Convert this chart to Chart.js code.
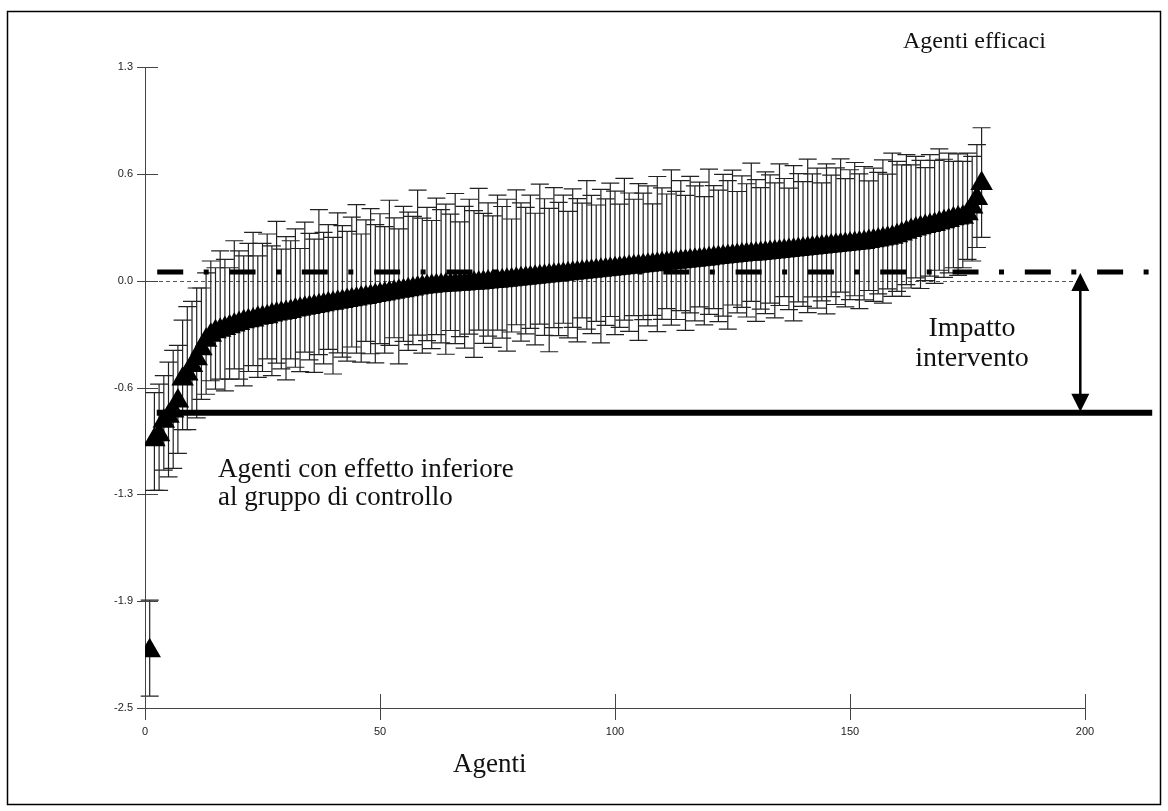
<!DOCTYPE html>
<html>
<head>
<meta charset="utf-8">
<script src="https://cdn.jsdelivr.net/npm/chart.js@4"></script>
<style>
  body { margin: 0; background: #fff; }
  canvas { display: block; }
</style>
</head>
<body>
<canvas id="chart" width="1168" height="811"></canvas>
<script>
// estimated agent effects, sorted (caterpillar plot)
const effect = [
  -2.16, -0.91, -0.88, -0.80, -0.77, -0.74, -0.68, -0.55, -0.52, -0.47,
  -0.43, -0.37, -0.32, -0.29, -0.27, -0.26, -0.25, -0.24, -0.23, -0.22,
  -0.21, -0.205, -0.20, -0.19, -0.185, -0.18, -0.17, -0.165, -0.16, -0.155,
  -0.15, -0.14, -0.136, -0.13, -0.126, -0.12, -0.115, -0.11, -0.104, -0.10,
  -0.095, -0.09, -0.084, -0.08, -0.076, -0.07, -0.066, -0.06, -0.054, -0.05,
  -0.046, -0.04, -0.035, -0.03, -0.026, -0.02, -0.016, -0.01, -0.006, -0.002,
  0.0, 0.003, 0.005, 0.007, 0.008, 0.01, 0.012, 0.014, 0.016, 0.018,
  0.02, 0.022, 0.025, 0.028, 0.03, 0.033, 0.036, 0.039, 0.042, 0.045,
  0.048, 0.05, 0.053, 0.056, 0.059, 0.062, 0.065, 0.068, 0.071, 0.074,
  0.077, 0.08, 0.083, 0.086, 0.089, 0.092, 0.095, 0.098, 0.101, 0.104,
  0.107, 0.11, 0.113, 0.116, 0.119, 0.122, 0.125, 0.128, 0.131, 0.134,
  0.137, 0.14, 0.143, 0.146, 0.149, 0.152, 0.155, 0.158, 0.161, 0.164,
  0.167, 0.17, 0.173, 0.176, 0.179, 0.182, 0.185, 0.188, 0.19, 0.192,
  0.195, 0.198, 0.20, 0.203, 0.206, 0.209, 0.212, 0.215, 0.218, 0.221,
  0.224, 0.227, 0.23, 0.233, 0.236, 0.239, 0.242, 0.245, 0.248, 0.251,
  0.254, 0.257, 0.26, 0.265, 0.27, 0.275, 0.28, 0.285, 0.29, 0.30,
  0.31, 0.32, 0.33, 0.34, 0.347, 0.354, 0.36, 0.367, 0.375, 0.383,
  0.39, 0.40, 0.405, 0.41, 0.43, 0.47, 0.52, 0.61
];

// upper / lower half-length of the interval
const errUp = [
  0.30, 0.28, 0.30, 0.27, 0.32, 0.36, 0.33, 0.35, 0.40, 0.38,
  0.42, 0.36, 0.40, 0.44, 0.38, 0.47, 0.41, 0.35, 0.50, 0.43,
  0.39, 0.46, 0.52, 0.37, 0.44, 0.49, 0.41, 0.55, 0.38, 0.45,
  0.42, 0.48, 0.36, 0.51, 0.44, 0.40, 0.57, 0.43, 0.47, 0.39,
  0.53, 0.45, 0.41, 0.49, 0.56, 0.38, 0.46, 0.52, 0.42, 0.48,
  0.40, 0.55, 0.44, 0.37, 0.50, 0.46, 0.43, 0.58, 0.41, 0.47,
  0.39, 0.52, 0.45, 0.48, 0.42, 0.54, 0.37, 0.46, 0.50, 0.43,
  0.56, 0.41, 0.47, 0.39, 0.51, 0.44, 0.48, 0.36, 0.53, 0.45,
  0.42, 0.49, 0.38, 0.55, 0.46, 0.40, 0.52, 0.43, 0.47, 0.37,
  0.50, 0.44, 0.41, 0.54, 0.45, 0.39, 0.48, 0.42, 0.51, 0.46,
  0.38, 0.53, 0.44, 0.40, 0.49, 0.43, 0.47, 0.36, 0.52, 0.45,
  0.41, 0.55, 0.42, 0.48, 0.39, 0.50, 0.44, 0.46, 0.37, 0.53,
  0.43, 0.40, 0.49, 0.45, 0.51, 0.38, 0.47, 0.42, 0.54, 0.44,
  0.39, 0.48, 0.46, 0.41, 0.52, 0.43, 0.37, 0.50, 0.45, 0.40,
  0.53, 0.44, 0.47, 0.38, 0.49, 0.42, 0.46, 0.51, 0.39, 0.44,
  0.48, 0.41, 0.45, 0.36, 0.43, 0.40, 0.47, 0.38, 0.50, 0.44,
  0.41, 0.46, 0.39, 0.43, 0.40, 0.35, 0.42, 0.38, 0.44, 0.37,
  0.40, 0.34, 0.38, 0.33, 0.36, 0.30, 0.32, 0.33
];
const errDown = [
  0.27, 0.30, 0.33, 0.29, 0.36, 0.34, 0.31, 0.30, 0.33, 0.28,
  0.35, 0.30, 0.32, 0.27, 0.34, 0.29, 0.37, 0.31, 0.26, 0.33,
  0.38, 0.30, 0.27, 0.35, 0.32, 0.25, 0.36, 0.29, 0.33, 0.40,
  0.28, 0.34, 0.37, 0.26, 0.31, 0.39, 0.29, 0.35, 0.27, 0.42,
  0.30, 0.33, 0.36, 0.28, 0.32, 0.38, 0.26, 0.34, 0.40, 0.29,
  0.35, 0.31, 0.27, 0.43, 0.30, 0.36, 0.33, 0.28, 0.39, 0.32,
  0.37, 0.29, 0.34, 0.41, 0.27, 0.35, 0.31, 0.38, 0.30, 0.44,
  0.28, 0.36, 0.32, 0.39, 0.29, 0.34, 0.42, 0.31, 0.27, 0.37,
  0.33, 0.30, 0.40, 0.28, 0.35, 0.45, 0.31, 0.36, 0.29, 0.38,
  0.32, 0.41, 0.27, 0.34, 0.37, 0.30, 0.43, 0.33, 0.28, 0.39,
  0.35, 0.31, 0.38, 0.29, 0.44, 0.32, 0.36, 0.30, 0.40, 0.33,
  0.27, 0.37, 0.34, 0.29, 0.41, 0.31, 0.36, 0.28, 0.39, 0.33,
  0.30, 0.38, 0.35, 0.43, 0.29, 0.34, 0.31, 0.37, 0.28, 0.40,
  0.33, 0.36, 0.30, 0.39, 0.32, 0.27, 0.35, 0.42, 0.31, 0.34,
  0.38, 0.29, 0.36, 0.32, 0.40, 0.30, 0.35, 0.28, 0.37, 0.33,
  0.31, 0.39, 0.34, 0.29, 0.36, 0.32, 0.38, 0.30, 0.35, 0.33,
  0.37, 0.31, 0.34, 0.29, 0.36, 0.32, 0.30, 0.35, 0.28, 0.33,
  0.31, 0.29, 0.34, 0.30, 0.27, 0.32, 0.29, 0.32
];

const xTicks = [0, 50, 100, 150, 200];
const yTickValues = [-2.5, -1.8667, -1.2333, -0.6, 0.0333, 0.6667, 1.3];
const yTickLabels = ['-2.5', '-1.9', '-1.3', '-0.6', '0.0', '0.6', '1.3'];

// reference lines
const zeroLine = 0.0333;      // thin dotted
const efficaciLine = 0.085;   // bold dash-dot
const controlLine = -0.75;    // bold solid
const arrowX = 199;

let points = effect.map(function(v, i) {
  return {x: i + 1, y: v};
});

const serif = '"Liberation Serif", "DejaVu Serif", serif';

let errorBars = {
  id: 'errorBars',
  beforeDatasetsDraw(chart) {
    let ctx = chart.ctx;
    let xs = chart.scales.x, ys = chart.scales.y;
    ctx.save();
    // thin dotted line at 0
    ctx.strokeStyle = '#555';
    ctx.lineWidth = 1;
    ctx.setLineDash([4, 3]);
    let yz = Math.round(ys.getPixelForValue(zeroLine)) + 0.5;
    ctx.beginPath();
    ctx.moveTo(xs.getPixelForValue(0), yz);
    ctx.lineTo(xs.getPixelForValue(arrowX), yz);
    ctx.stroke();
    ctx.setLineDash([]);

    ctx.strokeStyle = '#222';
    ctx.lineWidth = 1.2;
    for (let i = 0; i < points.length; i++) {
      let px = xs.getPixelForValue(points[i].x);
      let top = ys.getPixelForValue(points[i].y + errUp[i]);
      let bot = ys.getPixelForValue(points[i].y - errDown[i]);
      ctx.beginPath();
      ctx.moveTo(px, top);
      ctx.lineTo(px, bot);
      ctx.moveTo(px - 9, top);
      ctx.lineTo(px + 9, top);
      ctx.moveTo(px - 9, bot);
      ctx.lineTo(px + 9, bot);
      ctx.stroke();
    }
    ctx.restore();
  }
};

let extras = {
  id: 'extras',
  beforeDraw(chart) {
    let ctx = chart.ctx;
    ctx.save();
    ctx.fillStyle = '#fff';
    ctx.fillRect(0, 0, chart.width, chart.height);
    ctx.strokeStyle = '#000';
    ctx.lineWidth = 1.5;
    ctx.strokeRect(7.5, 11.5, 1153, 793);
    ctx.restore();
  },
  afterDraw(chart) {
    let ctx = chart.ctx;
    let xs = chart.scales.x, ys = chart.scales.y;
    ctx.save();

    // tick marks crossing the axes
    ctx.strokeStyle = '#444';
    ctx.lineWidth = 1;
    ys.ticks.forEach(function(t, i) {
      let py = Math.round(ys.getPixelForTick(i)) + 0.5;
      ctx.beginPath();
      ctx.moveTo(xs.left - 8, py);
      ctx.lineTo(xs.left + 13, py);
      ctx.stroke();
    });
    xs.ticks.forEach(function(t, i) {
      let px = Math.round(xs.getPixelForTick(i)) + 0.5;
      ctx.beginPath();
      ctx.moveTo(px, ys.bottom - 14);
      ctx.lineTo(px, ys.bottom + 12);
      ctx.stroke();
    });

    // bold dash-dot line
    let yE = ys.getPixelForValue(efficaciLine);
    ctx.strokeStyle = '#000';
    ctx.lineWidth = 5;
    ctx.setLineDash([26, 20.5, 5, 20.8]);
    ctx.beginPath();
    ctx.moveTo(xs.getPixelForValue(2.6), yE);
    ctx.lineTo(xs.getPixelForValue(213.8), yE);
    ctx.stroke();
    ctx.setLineDash([]);

    // bold solid line
    let yC = ys.getPixelForValue(controlLine);
    ctx.lineWidth = 6;
    ctx.beginPath();
    ctx.moveTo(xs.getPixelForValue(2.5), yC);
    ctx.lineTo(xs.getPixelForValue(214.3), yC);
    ctx.stroke();

    // double arrow
    let ax = xs.getPixelForValue(arrowX);
    ctx.lineWidth = 2.5;
    ctx.beginPath();
    ctx.moveTo(ax, yE + 10);
    ctx.lineTo(ax, yC - 10);
    ctx.stroke();
    ctx.fillStyle = '#000';
    ctx.beginPath();
    ctx.moveTo(ax, yE + 1);
    ctx.lineTo(ax - 9, yE + 19);
    ctx.lineTo(ax + 9, yE + 19);
    ctx.closePath();
    ctx.fill();
    ctx.beginPath();
    ctx.moveTo(ax, yC - 1);
    ctx.lineTo(ax - 9, yC - 19);
    ctx.lineTo(ax + 9, yC - 19);
    ctx.closePath();
    ctx.fill();

    // text
    ctx.fillStyle = '#111';
    ctx.textBaseline = 'middle';
    ctx.textAlign = 'left';
    ctx.font = '24px ' + serif;
    ctx.fillText('Agenti efficaci', 903, 42);
    ctx.font = '27px ' + serif;
    ctx.fillText('Agenti con effetto inferiore', 218, 470);
    ctx.fillText('al gruppo di controllo', 218, 498);
    ctx.fillText('Agenti', 453, 765);
    ctx.textAlign = 'center';
    ctx.font = '28px ' + serif;
    ctx.fillText('Impatto', 972, 329);
    ctx.fillText('intervento', 972, 359);
    ctx.restore();
  }
};

let ctx = document.getElementById('chart').getContext('2d');
window.agentChart = new Chart(ctx, {
  type: 'scatter',
  data: {
    datasets: [{
      data: points,
      pointStyle: 'triangle',
      pointRadius: 13,
      pointHoverRadius: 13,
      backgroundColor: '#000',
      borderColor: '#000',
      borderWidth: 0
    }]
  },
  options: {
    responsive: false,
    animation: false,
    events: [],
    layout: {
      padding: {left: 105, top: 67, right: 83, bottom: 63}
    },
    plugins: {
      legend: {display: false},
      tooltip: {enabled: false}
    },
    scales: {
      x: {
        type: 'linear',
        min: 0,
        max: 200,
        afterBuildTicks: function(scale) {
          scale.ticks = xTicks.map(function(v) { return {value: v}; });
        },
        ticks: {
          padding: 17,
          color: '#222',
          font: {family: '"Liberation Sans", Arial, sans-serif', size: 11}
        },
        grid: {display: false, drawTicks: false},
        border: {color: '#444', width: 1},
        afterFit: function(scale) { scale.height = 40; }
      },
      y: {
        type: 'linear',
        min: -2.5,
        max: 1.3,
        afterBuildTicks: function(scale) {
          scale.ticks = yTickValues.map(function(v) { return {value: v}; });
        },
        ticks: {
          padding: 12,
          color: '#222',
          font: {family: '"Liberation Sans", Arial, sans-serif', size: 11},
          callback: function(v, i) { return yTickLabels[i]; }
        },
        grid: {display: false, drawTicks: false},
        border: {color: '#444', width: 1},
        afterFit: function(scale) { scale.width = 40; }
      }
    }
  },
  plugins: [extras, errorBars]
});
</script>
</body>
</html>
